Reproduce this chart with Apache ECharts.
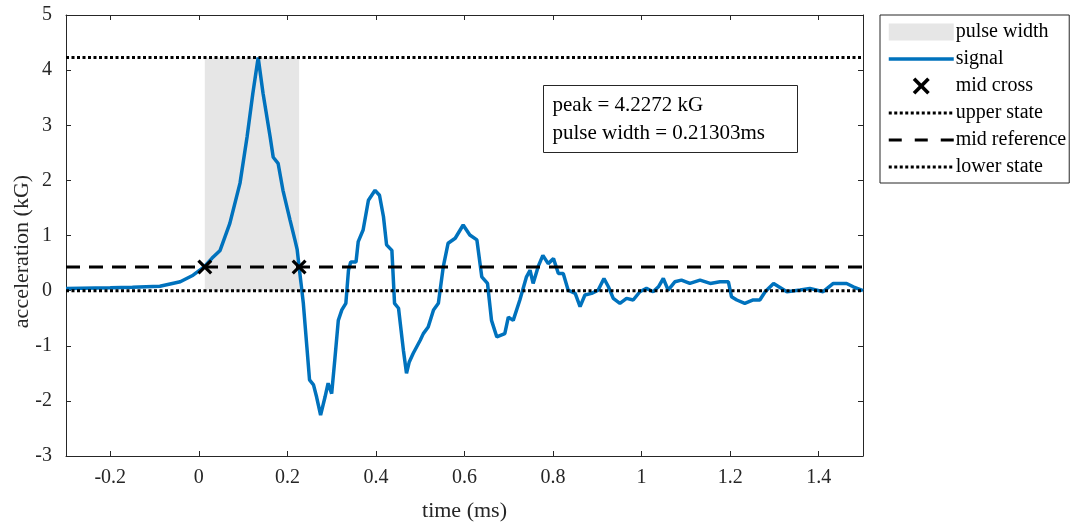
<!DOCTYPE html>
<html>
<head>
<meta charset="utf-8">
<script src="https://cdn.jsdelivr.net/npm/echarts@6/dist/echarts.min.js"></script>
<style>
  html, body { margin: 0; padding: 0; background: #fff; }
  #chart { width: 1076px; height: 523px; }
</style>
</head>
<body>
<div id="chart"></div>
<script>
// values
const timeMs = [
  -0.3, -0.2, -0.15, -0.088, -0.042, -0.013, 0.012, 0.03, 0.048, 0.07, 0.093, 0.109, 0.122, 0.134,
  0.145, 0.161, 0.168, 0.179, 0.19, 0.206, 0.217, 0.222, 0.2265, 0.236, 0.244, 0.25, 0.259, 0.266,
  0.275, 0.285, 0.292, 0.3, 0.307, 0.315, 0.323, 0.332, 0.338, 0.343, 0.355, 0.36, 0.371, 0.383,
  0.398, 0.408, 0.417, 0.424, 0.436, 0.442, 0.451, 0.462, 0.469, 0.475, 0.484, 0.5, 0.507, 0.518,
  0.53, 0.541, 0.552, 0.563, 0.579, 0.597, 0.612, 0.628, 0.639, 0.652, 0.661, 0.673, 0.691, 0.699,
  0.71, 0.725, 0.74, 0.748, 0.755, 0.767, 0.777, 0.789, 0.801, 0.812, 0.823, 0.834, 0.85, 0.861,
  0.872, 0.887, 0.902, 0.915, 0.925, 0.936, 0.951, 0.966, 0.981, 0.996, 1.011, 1.026, 1.038, 1.049,
  1.06, 1.075, 1.09, 1.109, 1.132, 1.155, 1.177, 1.196, 1.203, 1.215, 1.233, 1.252, 1.267, 1.279,
  1.298, 1.328, 1.358, 1.38, 1.41, 1.433, 1.463, 1.478, 1.497, 1.5
]
const accel = [
  0.04, 0.05, 0.06, 0.08, 0.16, 0.28, 0.43, 0.59, 0.73, 1.22, 1.95, 2.79, 3.58, 4.2272,
  3.58, 2.79, 2.42, 2.31, 1.82, 1.28, 0.92, 0.75, 0.43, -0.23, -1.02, -1.62, -1.71, -1.93,
  -2.26, -1.93, -1.68, -1.87, -1.26, -0.54, -0.35, -0.23, 0.37, 0.52, 0.52, 0.89, 1.1, 1.64,
  1.82, 1.73, 1.34, 0.83, 0.73, -0.23, -0.32, -1.08, -1.5, -1.3, -1.14, -0.9, -0.78, -0.66,
  -0.35, -0.23, 0.43, 0.86, 0.95, 1.19, 1.01, 0.92, 0.25, 0.13, -0.54, -0.84, -0.78, -0.48,
  -0.54, -0.17, 0.25, 0.37, 0.13, 0.45, 0.64, 0.49, 0.58, 0.31, 0.31, 0.01, -0.05, -0.29,
  -0.08, -0.05, 0.01, 0.22, 0.07, -0.14, -0.23, -0.14, -0.17, -0.02, 0.04, -0.02, 0.07, 0.22,
  0.01, 0.16, 0.19, 0.13, 0.19, 0.13, 0.16, 0.16, -0.11, -0.17, -0.23, -0.17, -0.17, -0.02,
  0.13, -0.02, 0.01, 0.04, -0.02, 0.13, 0.13, 0.07, 0.01, 0.0
]
const upperState = 4.2272
const lowerState = 0.0
const midReference = 0.43
const crossTimes = [0.0135, 0.2265]
const xTicks = [-0.2, 0, 0.2, 0.4, 0.6, 0.8, 1, 1.2, 1.4]
const xRange = [-0.3, 1.5]
const yRange = [-3, 5]

const axisColor = '#262626'
const serif = 'Liberation Serif'
const crossPath = 'path://M0,1.5L1.5,0L5,3.5L8.5,0L10,1.5L6.5,5L10,8.5L8.5,10L5,6.5L1.5,10L0,8.5L3.5,5Z'
const noSymbol = { color: 'rgba(0,0,0,0)', borderWidth: 0 }
const dotted = [3, 2.5]

const signal = timeMs.map((t, i) => [t, accel[i]])
const hLine = v => [[xRange[0], v], [xRange[1], v]]

const chart = echarts.init(document.getElementById('chart'))

const baseX = {
  type: 'value',
  min: xRange[0],
  max: xRange[1],
  axisLine: { show: true, onZero: false, lineStyle: { color: axisColor, width: 1 } },
  axisTick: { show: true, inside: true, length: 5, customValues: xTicks, lineStyle: { color: axisColor } },
  splitLine: { show: false }
}
const baseY = {
  type: 'value',
  min: yRange[0],
  max: yRange[1],
  interval: 1,
  axisLine: { show: true, onZero: false, lineStyle: { color: axisColor, width: 1 } },
  axisTick: { show: true, inside: true, length: 5, lineStyle: { color: axisColor } },
  splitLine: { show: false }
}

const options = {
  animation: false,
  backgroundColor: '#fff',
  grid: { left: 66, top: 15, width: 797, height: 441, outerBoundsMode: 'none', containLabel: false },
  xAxis: [
    Object.assign({}, baseX, {
      position: 'bottom',
      name: 'time (ms)',
      nameLocation: 'middle',
      nameGap: 44,
      nameMoveOverlap: false,
      nameTextStyle: { fontFamily: serif, fontSize: 22, color: axisColor },
      axisLabel: { show: true, customValues: xTicks, margin: 12, fontFamily: serif, fontSize: 20, color: axisColor }
    }),
    Object.assign({}, baseX, { position: 'top', axisLabel: { show: false } })
  ],
  yAxis: [
    Object.assign({}, baseY, {
      position: 'left',
      name: 'acceleration (kG)',
      nameLocation: 'middle',
      nameGap: 33,
      nameMoveOverlap: false,
      nameTextStyle: { fontFamily: serif, fontSize: 22, color: axisColor, padding: [0, 32, 0, 0] },
      axisLabel: { show: true, margin: 14, fontFamily: serif, fontSize: 20, color: axisColor }
    }),
    Object.assign({}, baseY, { position: 'right', axisLabel: { show: false } })
  ],
  legend: {
    orient: 'vertical',
    left: 880,
    top: 15,
    padding: [7, 3, 6, 7],
    itemWidth: 65,
    itemHeight: 17,
    itemGap: 7,
    borderColor: axisColor,
    borderWidth: 1,
    backgroundColor: '#fff',
    textStyle: { fontFamily: serif, fontSize: 20, color: '#000', lineHeight: 20, padding: [0, 0, 0, -3] },
    data: [
      { name: 'pulse width', icon: 'rect', itemStyle: { color: '#e6e6e6' } },
      { name: 'signal', itemStyle: noSymbol, lineStyle: { width: 3.5 } },
      { name: 'mid cross', icon: crossPath, itemStyle: { color: '#000' } },
      { name: 'upper state', itemStyle: noSymbol, lineStyle: { width: 3, type: dotted } },
      { name: 'mid reference', itemStyle: noSymbol, lineStyle: { width: 3, type: [13, 13] } },
      { name: 'lower state', itemStyle: noSymbol, lineStyle: { width: 3, type: dotted } }
    ]
  },
  graphic: [
    {
      type: 'group',
      left: 543,
      top: 85,
      z: 100,
      children: [
        { type: 'rect', shape: { x: 0, y: 0, width: 254, height: 67 }, style: { fill: '#fff', stroke: axisColor, lineWidth: 1 } },
        { type: 'text', x: 9, y: 20, style: { text: 'peak = 4.2272 kG', fontFamily: serif, fontSize: 21, fill: '#000', verticalAlign: 'middle' } },
        { type: 'text', x: 9, y: 48, style: { text: 'pulse width = 0.21303ms', fontFamily: serif, fontSize: 21, fill: '#000', verticalAlign: 'middle' } }
      ]
    }
  ],
  series: [
    {
      name: 'pulse width',
      type: 'line',
      data: [],
      symbol: 'none',
      itemStyle: { color: '#e6e6e6' },
      lineStyle: { width: 0 },
      z: 1,
      markArea: {
        silent: true,
        itemStyle: { color: '#e6e6e6' },
        data: [[{ coord: [crossTimes[0], lowerState] }, { coord: [crossTimes[1], upperState] }]]
      }
    },
    {
      name: 'signal',
      type: 'line',
      data: signal,
      symbol: 'none',
      color: '#0072BD',
      lineStyle: { color: '#0072BD', width: 3.5 },
      z: 3
    },
    {
      name: 'upper state',
      type: 'line',
      data: hLine(upperState),
      symbol: 'none',
      color: '#000',
      lineStyle: { color: '#000', width: 3, type: dotted },
      z: 4
    },
    {
      name: 'mid reference',
      type: 'line',
      data: hLine(midReference),
      symbol: 'none',
      color: '#000',
      lineStyle: { color: '#000', width: 3, type: [14, 9] },
      z: 4
    },
    {
      name: 'lower state',
      type: 'line',
      data: hLine(lowerState),
      symbol: 'none',
      color: '#000',
      lineStyle: { color: '#000', width: 3, type: dotted },
      z: 4
    },
    {
      name: 'mid cross',
      type: 'scatter',
      data: crossTimes.map(t => [t, midReference]),
      symbol: crossPath,
      symbolSize: 15,
      itemStyle: { color: '#000', opacity: 1 },
      z: 6
    }
  ]
}

chart.setOption(options)
</script>
</body>
</html>
